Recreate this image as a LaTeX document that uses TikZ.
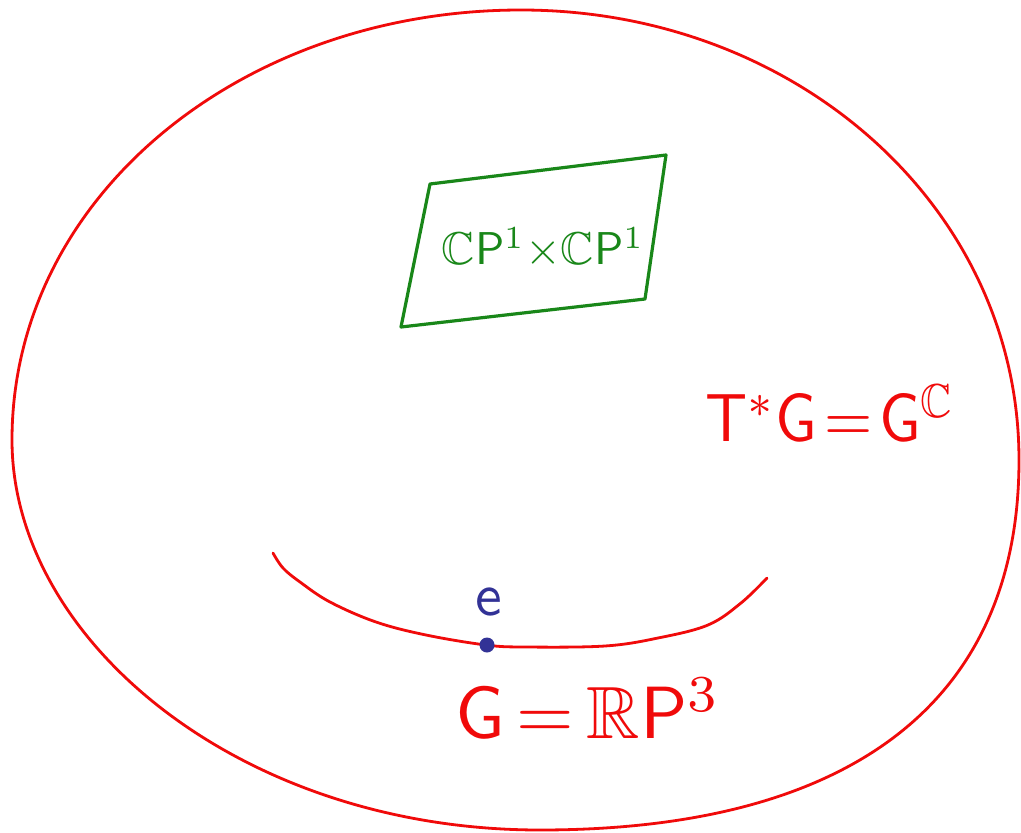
\documentclass[tikz,border=0pt]{standalone}
\usepackage{amssymb}
\definecolor{inkred}{RGB}{240,10,10}
\definecolor{inkgreen}{RGB}{25,135,25}
\definecolor{inkblue}{RGB}{50,50,150}
\tikzset{
  redline/.style={draw=inkred, line width=2.8pt, line cap=round, line join=round},
  greenline/.style={draw=inkgreen, line width=3.2pt, line cap=round, line join=round},
  lbl/.style={inner sep=0pt, anchor=center},
}
\begin{document}
\begin{tikzpicture}[x=1pt,y=-1pt]
\useasboundingbox[fill=white] (0,0) rectangle (1021,833);
% big oval
\coordinate (otop) at (521,10);
\coordinate (oright) at (1019,460);
\coordinate (obot) at (540,830);
\coordinate (oleft) at (12,440);
\draw[redline] (otop) .. controls (796,10) and (1019,207) .. (oright)
  .. controls (1019,710) and (840,830) .. (obot)
  .. controls (240,830) and (12,640) .. (oleft)
  .. controls (12,197) and (241,10) .. (otop) -- cycle;
% green parallelogram
\coordinate (tl) at (430,184);
\coordinate (tr) at (666,155);
\coordinate (br) at (645,299);
\coordinate (bl) at (401,327);
\draw[greenline] (tl) -- (tr) -- (br) -- (bl) -- cycle;
\node[lbl, text=inkgreen] (cp) at (543,248)
  {\scalebox{4.6}{$\mathbb{C}\mathsf{P}^{1}{\times}\mathbb{C}\mathsf{P}^{1}$}};
% T*G = G^C
\node[lbl, text=inkred] (tg) at (830,413)
  {\scalebox{6.2}[6.8]{$\mathsf{T}^{*}\mathsf{G}\mkern2mu{=}\mkern2mu\mathsf{G}^{\mathbb{C}}$}};
% inner arc G
\draw[redline] plot[smooth, tension=0.6] coordinates {
 (273,553) (283,568) (300,582) (330,602) (376,622) (426,635) (486,645)
 (525,647) (605,646) (658,638) (708,625) (741,603) (767,578)};
% identity point
\node[circle, fill=inkblue, inner sep=0pt, minimum size=15pt] (dot) at (487,645) {};
\node[lbl, text=inkblue] (e) at (489,602) {\scalebox{6}{$\mathsf{e}$}};
% G = RP^3
\node[lbl, text=inkred] (g) at (588,708)
  {\scalebox{7.4}{$\mathsf{G}\,{=}\,\mathbb{R}\mathsf{P}^{3}$}};
\end{tikzpicture}
\end{document}
